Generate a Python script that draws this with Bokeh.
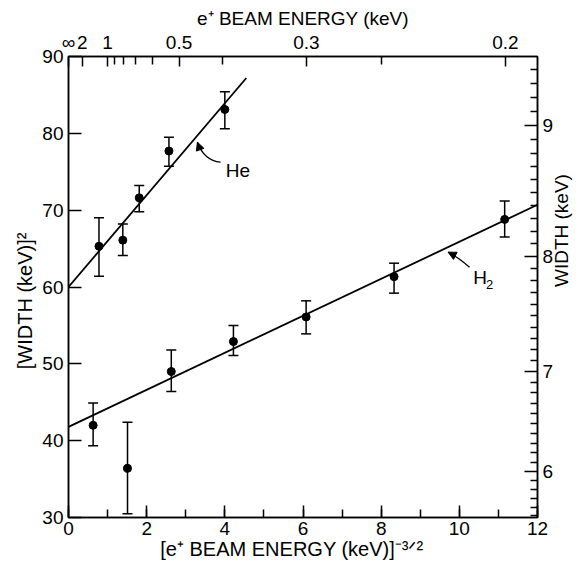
import math
from bokeh.plotting import figure
from bokeh.models import (ColumnDataSource, Whisker, TeeHead, LinearAxis, FixedTicker,
                          SingleIntervalTicker, Label, Arrow, NormalHead, Range1d)
from bokeh.embed import file_html
from bokeh.resources import INLINE

# ---------------- data ----------------
he_x = [0.78, 1.39, 1.81, 2.57, 4.00]
he_y = [65.3, 66.1, 71.6, 77.7, 83.1]
he_lo = [61.4, 64.1, 69.8, 75.7, 80.6]
he_hi = [69.0, 68.2, 73.2, 79.5, 85.4]
he_fit_x = [0.0, 4.55]
he_fit_y = [60.0, 87.2]

h2_x = [0.63, 1.51, 2.63, 4.22, 6.08, 8.33, 11.16]
h2_y = [42.0, 36.4, 49.0, 52.9, 56.1, 61.35, 68.8]
h2_lo = [39.35, 30.5, 46.4, 51.1, 53.9, 59.2, 66.5]
h2_hi = [44.9, 42.4, 51.8, 55.0, 58.2, 63.1, 71.2]
h2_fit_x = [0.0, 12.0]
h2_fit_y = [41.8, 70.7]

# top axis: e+ beam energy (keV), x = E^(-3/2)
energy_major = [2, 1, 0.5, 0.3, 0.2]
energy_major_labels = ["2", "1", "0.5", "0.3", "0.2"]
energy_minor = [0.9, 0.8, 0.7, 0.6, 0.4, 0.25]
# right axis: width (keV), y = W^2
width_major = [6, 7, 8, 9]
width_major_labels = ["6", "7", "8", "9"]
width_minor_tenths = [w for w in range(55, 95) if w % 10]

NB = "\u00a0"
top_title = "e⁺ BEAM ENERGY (keV)"
bottom_title = "[e⁺ BEAM ENERGY (keV)]⁻³ᐟ²" + NB * 4
left_title = "[WIDTH (keV)]²" + NB * 5
right_title = "WIDTH (keV)"

FONT = "Liberation Sans"
X0, X1, Y0, Y1 = 0, 12, 30, 90
FW, FH = 474, 461
PAGE_FL, PAGE_FT = 68, 56


def px2x(px):
    return X0 + (px - PAGE_FL) * (X1 - X0) / FW


def py2y(py):
    return Y1 - (py - PAGE_FT) * (Y1 - Y0) / FH


p = figure(width=585, height=567, output_backend="svg", toolbar_location=None,
           x_range=Range1d(X0, X1), y_range=Range1d(Y0, Y1),
           min_border_left=68, min_border_right=43, min_border_top=56,
           min_border_bottom=50)
p.grid.visible = False
p.outline_line_color = "black"
p.outline_line_width = 1.5
p.outline_line_alpha = 1.0
p.background_fill_color = "white"
p.border_fill_color = "white"


def style_axis(ax, maj, mnr, standoff, title, title_standoff, title_size="19px"):
    ax.axis_line_color = "black"
    ax.axis_line_width = 1.5
    ax.major_tick_in = maj
    ax.major_tick_out = 0
    ax.minor_tick_in = mnr
    ax.minor_tick_out = 0
    ax.major_tick_line_color = "black"
    ax.major_tick_line_width = 1.5
    ax.minor_tick_line_color = "black" if mnr else None
    ax.minor_tick_line_width = 1.5
    ax.major_label_standoff = standoff
    ax.major_label_text_font = FONT
    ax.major_label_text_font_size = "19px"
    ax.major_label_text_color = "black"
    ax.axis_label = title
    ax.axis_label_standoff = title_standoff
    ax.axis_label_text_font = FONT
    ax.axis_label_text_font_size = title_size
    ax.axis_label_text_font_style = "normal"
    ax.axis_label_text_color = "black"


bottom = p.xaxis[0]
bottom.ticker = SingleIntervalTicker(interval=2, num_minor_ticks=2)
style_axis(bottom, 12, 8, 4, bottom_title, 0, "20px")

left = p.yaxis[0]
left.ticker = SingleIntervalTicker(interval=10, num_minor_ticks=2)
style_axis(left, 13, 0, 5, left_title, 3, "20px")

top_ticks = [0.0] + [e ** -1.5 for e in energy_major]
top_overrides = {0.0: "∞"}
for t, lab in zip(top_ticks[1:], energy_major_labels):
    top_overrides[t] = lab
top = LinearAxis(ticker=FixedTicker(ticks=top_ticks,
                                    minor_ticks=[e ** -1.5 for e in energy_minor]),
                 major_label_overrides=top_overrides)
style_axis(top, 10, 8, 4, top_title, 0)
p.add_layout(top, "above")

right_ticks = [w * w for w in width_major]
right = LinearAxis(ticker=FixedTicker(ticks=right_ticks,
                                      minor_ticks=[(w / 10) ** 2 for w in width_minor_tenths]),
                   major_label_overrides={t: lab for t, lab in zip(right_ticks, width_major_labels)})
style_axis(right, 13, 7, 5, right_title, 5)
right.axis_label_text_align = "center"
try:
    right.axis_label_orientation = math.pi / 2
except Exception:
    pass
p.add_layout(right, "right")

# ---------------- data marks ----------------
for xs, ys, lo, hi, fx, fy in [(he_x, he_y, he_lo, he_hi, he_fit_x, he_fit_y),
                               (h2_x, h2_y, h2_lo, h2_hi, h2_fit_x, h2_fit_y)]:
    src = ColumnDataSource(dict(x=xs, y=ys, lo=lo, hi=hi))
    p.add_layout(Whisker(source=src, base="x", upper="hi", lower="lo",
                         line_color="black", line_width=1.5,
                         upper_head=TeeHead(size=10, line_color="black", line_width=1.5),
                         lower_head=TeeHead(size=10, line_color="black", line_width=1.5)))
    p.scatter("x", "y", source=src, size=8, color="black")
    p.line(fx, fy, line_color="black", line_width=1.8)


def txt(text, px, py, size=19, align="left", baseline="alphabetic", angle=0.0):
    p.add_layout(Label(text=text, x=px2x(px), y=py2y(py), text_font=FONT,
                       text_font_size=f"{size}px", text_color="black",
                       text_align=align, text_baseline=baseline, angle=angle))


def curved_arrow(tail, ctrl, tip):
    (tx, ty), (cx, cy), (hx, hy) = [(px2x(a), py2y(b)) for a, b in (tail, ctrl, tip)]
    p.quadratic(x0=[tx], y0=[ty], x1=[hx], y1=[hy], cx=[cx], cy=[cy],
                line_color="black", line_width=1.3)
    sx, sy = hx - 0.3 * (hx - cx), hy - 0.3 * (hy - cy)
    p.add_layout(Arrow(end=NormalHead(size=8, fill_color="black", line_color="black"),
                       x_start=sx, y_start=sy, x_end=hx, y_end=hy,
                       line_color="black", line_width=1.3))


# annotations inside the frame
txt("He", 227, 170)
curved_arrow((221.7, 161.7), (205, 160), (198.3, 141.7))
txt("H", 477, 277)
txt("2", 490, 284, size=13)
curved_arrow((473.3, 266.7), (461.7, 256.7), (451.7, 251.7))

open("out.html", "w").write(file_html(p, INLINE))
